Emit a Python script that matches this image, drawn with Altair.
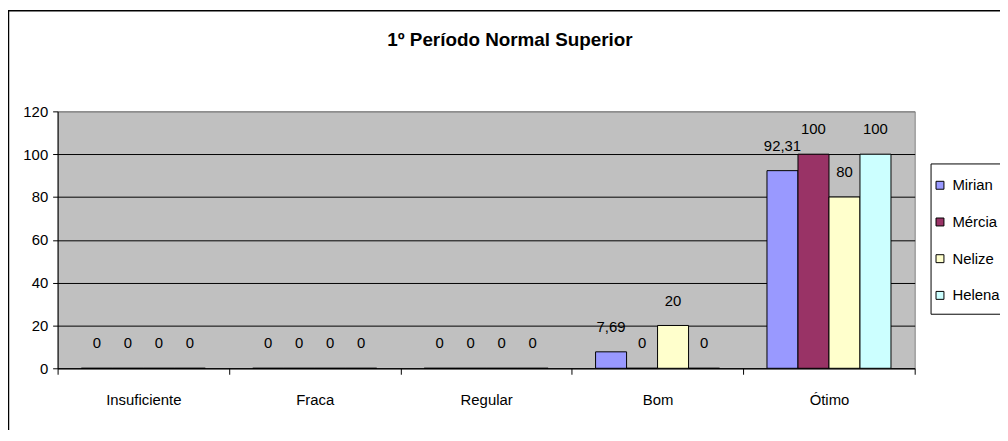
import altair as alt
import pandas as pd

categorias = ["Insuficiente", "Fraca", "Regular", "Bom", "Ótimo"]
series = ["Mirian", "Mércia", "Nelize", "Helena"]
mirian = [0, 0, 0, 7.69, 92.31]
mercia = [0, 0, 0, 0, 100]
nelize = [0, 0, 0, 20, 80]
helena = [0, 0, 0, 0, 100]
cores = ["#9999FF", "#993366", "#FFFFCC", "#CCFFFF"]
y_ticks = [0, 20, 40, 60, 80, 100, 120]
titulo = "1º Período Normal Superior"

rows = []
for s, vals in zip(series, [mirian, mercia, nelize, helena]):
    for c, v in zip(categorias, vals):
        rows.append({"categoria": c, "serie": s, "valor": v})
df = pd.DataFrame(rows)

FONT = "Liberation Sans, Arial, sans-serif"
FS = 15

base = alt.Chart(df).encode(
    x=alt.X(
        "categoria:N",
        sort=categorias,
        title=None,
        scale=alt.Scale(paddingInner=0, paddingOuter=0),
        axis=alt.Axis(
            labelAngle=0, tickBand="extent", tickSize=6, labelPadding=18,
            grid=False, domainColor="black", tickColor="black",
            labelFont=FONT, labelFontSize=FS, labelColor="black",
        ),
    ),
    xOffset=alt.XOffset("serie:N", sort=series,
                        scale=alt.Scale(paddingInner=0, paddingOuter=0.765)),
    y=alt.Y(
        "valor:Q",
        title=None,
        scale=alt.Scale(domain=[0, 120], nice=False),
        axis=alt.Axis(
            values=y_ticks, tickSize=5, labelPadding=5,
            grid=True, gridWidth=1,
            gridColor={"condition": {"test": "datum.value === 120", "value": "#808080"}, "value": "black"},
            domainColor="black", tickColor="black",
            labelFont=FONT, labelFontSize=FS, labelColor="black",
        ),
    ),
)

bars = base.mark_bar(stroke="black", strokeWidth=1).encode(
    color=alt.Color(
        "serie:N",
        sort=series,
        scale=alt.Scale(domain=series, range=cores),
        legend=alt.Legend(
            title=None, orient="none", legendX=882, legendY=67,
            symbolType="square", symbolSize=64, symbolStrokeColor="black",
            symbolStrokeWidth=1, symbolOpacity=1,
            labelFont=FONT, labelFontSize=FS, labelColor="black",
            rowPadding=21, padding=0, labelOffset=5,
        ),
    )
)

labels = base.transform_calculate(
    rotulo="replace(toString(datum.valor), '.', ',')"
).mark_text(
    dy=-20, baseline="alphabetic", font=FONT, fontSize=FS, color="black"
).encode(text="rotulo:N")

one = pd.DataFrame({"k": [0]})
frame = alt.Chart(one).mark_rect(fillOpacity=0, stroke="black", strokeWidth=1.5).encode(
    x=alt.value(-49.5), x2=alt.value(1000), y=alt.value(-101.5), y2=alt.value(400)
)
legend_box = alt.Chart(one).mark_rect(fill="white", stroke="black", strokeWidth=1).encode(
    x=alt.value(880.5), x2=alt.value(1000), y=alt.value(53), y2=alt.value(204.5)
)
title_mark = alt.Chart(pd.DataFrame({"t": [titulo]})).mark_text(
    font=FONT, fontSize=19, fontWeight="bold", color="black",
    align="center", baseline="alphabetic",
).encode(x=alt.value(456), y=alt.value(-66), text="t:N")

chart = alt.layer(frame, legend_box, title_mark, bars, labels).properties(
    width=864,
    height=259,
    padding={"left": 50, "top": 102.5, "right": 86, "bottom": 60},
    autosize="none",
).configure_view(fill="#C0C0C0", stroke="#808080")

chart.save("out.html", embed_options={"renderer": "svg", "actions": False})
